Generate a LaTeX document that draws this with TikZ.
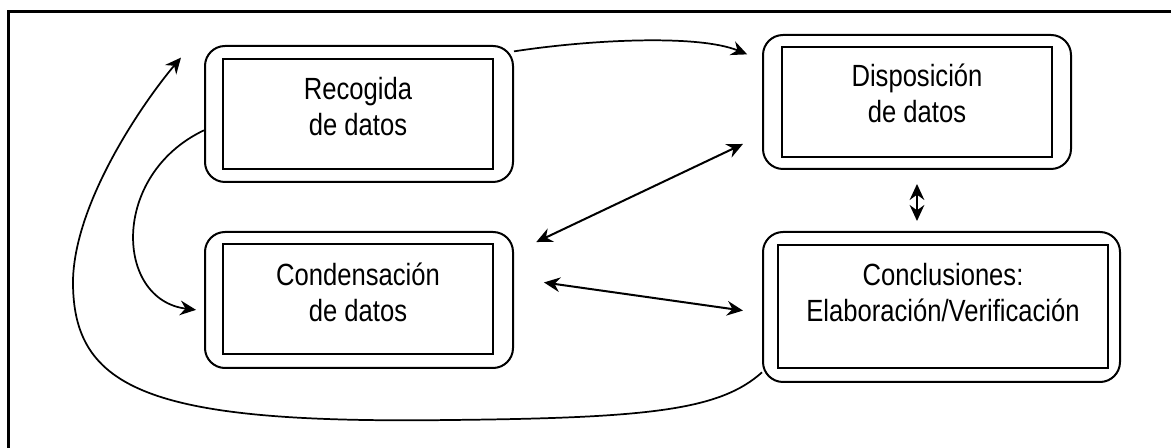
\documentclass[tikz,border=0pt]{standalone}
\usepackage{fontspec}
\setmainfont{Liberation Sans}[FakeStretch=0.835]
\usetikzlibrary{arrows.meta}

\tikzset{every picture/.style={line width=0.75pt}}
\tikzset{
	outerbox/.style={draw, line width=1.5pt, rounded corners=15pt, inner sep=0pt},
	innerbox/.style={draw, line width=1.5pt, inner sep=0pt},
	boxtext/.style={align=center, inner sep=0pt, font=\fontsize{23}{27}\selectfont},
	flow/.style={line width=1.3pt, -{Stealth[length=12pt,width=11pt,inset=4pt]}},
	twoway/.style={line width=1.5pt, {Stealth[length=12pt,width=11pt,inset=4pt]}-{Stealth[length=12pt,width=11pt,inset=4pt]}}
}

\begin{document}
\begin{tikzpicture}[x=0.75pt,y=0.75pt,yscale=-1,xscale=1]
				\useasboundingbox (0,0) rectangle (1171,448);
				%Shape: Frame
				\draw [line width=2.25pt] (8,12) rectangle (1190,470);
				
				%Shape: Rounded Rect [id:recogida]
				\node [outerbox, minimum width=231pt, minimum height=102pt] (recO) at (359,114) {};
				\node [innerbox, minimum width=202.5pt, minimum height=82.5pt] (recI) at (358,114) {};
				%Shape: Rounded Rect [id:condensacion]
				\node [outerbox, minimum width=231pt, minimum height=102pt] (conO) at (359,300) {};
				\node [innerbox, minimum width=202.5pt, minimum height=82.5pt] (conI) at (358,299) {};
				%Shape: Rounded Rect [id:disposicion]
				\node [outerbox, minimum width=231pt, minimum height=100.5pt] (disO) at (917,102) {};
				\node [innerbox, minimum width=202.5pt, minimum height=82.5pt] (disI) at (917,102) {};
				%Shape: Rounded Rect [id:conclusiones]
				\node [outerbox, minimum width=267.75pt, minimum height=112.5pt] (concO) at (941.5,307) {};
				\node [innerbox, minimum width=247.5pt, minimum height=92.25pt] (concI) at (943,306.5) {};
				
				% Text Node
				\node [boxtext] (recT) at (358,107) {Recogida\\de datos};
				% Text Node
				\node [boxtext] (conT) at (358,292) {Condensación\\de datos};
				% Text Node
				\node [boxtext] (disT) at (917,93.5) {Disposición\\de datos};
				% Text Node
				\node [boxtext] (concT) at (943,293) {Conclusiones:\\Elaboración/Verificación};
				
				%Curve Lines
				\draw [flow, shorten >=12pt] (recO.22) .. controls +(78,-12) and +(-63,-26) .. (disO.165);
				\draw [flow, shorten >=6pt] (recO.186) .. controls (110,175) and (115,300) .. (conO.184);
				\draw [flow] (concO.200) .. controls (720,410) and (650,418) .. (450,420)
					.. controls (150,424) and (72,390) .. (73,280)
					.. controls (75,200) and (145,100) .. ([xshift=-17.25pt]recO.160);
				%Straight Lines
				\draw [twoway, shorten <=18.5pt, shorten >=15.8pt] (conO.17) -- (disO.192);
				\draw [twoway, shorten <=22.7pt, shorten >=14.4pt] (conO.8) -- (concO.182);
				\draw [twoway, shorten <=10.5pt, shorten >=7.5pt] (disO.south) -- (disO.south |- concO.north);
			\end{tikzpicture}
\end{document}
